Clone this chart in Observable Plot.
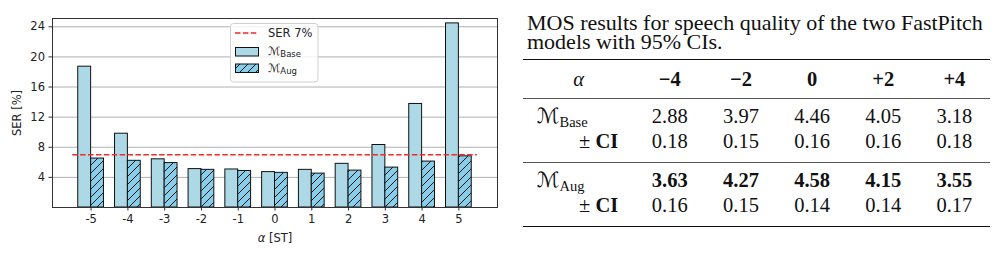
<!DOCTYPE html>
<html>
<head>
<meta charset="utf-8">
<script src="https://cdn.jsdelivr.net/npm/d3@7"></script>
<script src="https://cdn.jsdelivr.net/npm/@observablehq/plot@0.6"></script>
<style>
  html, body { margin: 0; padding: 0; background: #fff; }
  #wrap { position: relative; width: 1008px; height: 259px; overflow: hidden; }
  #chart { position: absolute; left: 0; top: 0; }
  #panel { position: absolute; left: 523px; top: 0; width: 467px;
           font-family: "Liberation Serif", "DejaVu Serif", serif; color: #111; }
  #caption { position: absolute; left: 4px; top: 13px; width: 480px; white-space: nowrap;
             font-family: "Liberation Serif", serif; font-size: 22px; line-height: 19px; }
  #caption span { display: inline-block; }
  #mos { position: absolute; left: 0; top: 59px; width: 467px; border-collapse: collapse;
         font-size: 20.5px; table-layout: fixed; font-family: "Liberation Serif", "DejaVu Serif", serif; }
  #mos td { padding: 0; text-align: center; height: 25px; line-height: 25px; white-space: nowrap;
            font-family: "Liberation Serif", "DejaVu Serif", serif; }
  #mos tr.head td { height: 38px; line-height: 38px; }
  #mos tr.first td { height: 30px; line-height: 25px; padding-top: 5px; box-sizing: border-box; vertical-align: bottom; }
  #mos tr.last td { height: 33px; line-height: 25px; padding-bottom: 8px; box-sizing: border-box; vertical-align: top; }
  #mos td.name { text-align: left; padding-left: 14px; }
  #mos td.ci { text-align: right; padding-right: 16px; }
  #mos .cal { font-family: "DejaVu Sans", sans-serif; font-size: 21px; }
  #mos sub { font-size: 14.5px; vertical-align: -4px; line-height: 0; }
  .b { font-weight: bold; }
</style>
</head>
<body>
<div id="wrap">
  <div id="chart"></div>
  <div id="panel">
    <div id="caption"><span id="cap1">MOS results for speech quality of the two FastPitch</span><br><span>models with 95% CIs.</span></div>
    <table id="mos"></table>
  </div>
</div>
<script>
// Pitch shift α in semitones and the speech error rate (SER, %) of each model
const alphas = [-5, -4, -3, -2, -1, 0, 1, 2, 3, 4, 5];
const serBase = [18.7, 9.8, 6.4, 5.1, 5.05, 4.7, 5.0, 5.8, 8.3, 13.75, 24.45];
const serAug = [6.5, 6.2, 5.9, 5.0, 4.85, 4.6, 4.5, 4.9, 5.3, 6.1, 6.8];
const serThreshold = 7;
const yTicks = [4, 8, 12, 16, 20, 24];

// MOS table: pitch shifts, means and 95% confidence half-widths
const mosShifts = ["−4", "−2", "0", "+2", "+4"];
const mosBase = [2.88, 3.97, 4.46, 4.05, 3.18];
const ciBase = [0.18, 0.15, 0.16, 0.16, 0.18];
const mosAug = [3.63, 4.27, 4.58, 4.15, 3.55];
const ciAug = [0.16, 0.15, 0.14, 0.14, 0.17];

const barW = 0.35;
const rows = alphas.map((a, i) => ({alpha: a, base: serBase[i], aug: serAug[i]}));
const baseFill = "#add8e6";
const augFill = "#87ceeb";
const ink = "#222";

const plot = Plot.plot({
  width: 510,
  height: 250,
  marginLeft: 52,
  marginRight: 13,
  marginTop: 18,
  marginBottom: 43,
  style: {fontFamily: "DejaVu Sans, sans-serif", fontSize: "11.5px", color: ink, background: "transparent"},
  x: {domain: [-6.05, 6.05]},
  y: {domain: [0, 25.1]},
  marks: [
    Plot.gridY(yTicks, {stroke: "#b0b0b0", strokeOpacity: 1, strokeWidth: 1}),
    Plot.rectY(rows, {x1: d => d.alpha - barW, x2: d => d.alpha, y: "base",
      fill: baseFill, stroke: "#111", strokeWidth: 1}),
    Plot.rectY(rows, {x1: d => d.alpha, x2: d => d.alpha + barW, y: "aug",
      fill: "url(#hatch)", stroke: "#111", strokeWidth: 1}),
    Plot.ruleY([serThreshold], {x1: alphas[0] - 0.5, x2: alphas[alphas.length - 1] + 0.5,
      stroke: "#ee2a2a", strokeWidth: 1.5, strokeDasharray: "5.5,2.4"}),
    Plot.frame({stroke: "#333", strokeWidth: 1}),
    Plot.axisX(alphas, {tickFormat: d => String(d), tickSize: 3.5, tickPadding: 4,
      label: "α [ST]", labelArrow: "none", labelAnchor: "center", labelOffset: 34, stroke: "#333"}),
    Plot.axisY(yTicks, {tickFormat: d => String(d), tickSize: 3.5, tickPadding: 4,
      label: "SER [%]", labelArrow: "none", labelAnchor: "center", labelOffset: 40, stroke: "#333"})
  ]
});
document.getElementById("chart").append(plot);

const svg = d3.select(plot);
// hatch pattern for the augmented model's bars
const defs = svg.insert("defs", ":first-child");
const pat = defs.append("pattern").attr("id", "hatch").attr("patternUnits", "userSpaceOnUse")
  .attr("width", 8).attr("height", 8);
pat.append("rect").attr("width", 8).attr("height", 8).attr("fill", augFill);
pat.append("path").attr("d", "M-2,2 L2,-2 M0,8 L8,0 M6,10 L10,6")
  .attr("stroke", "#111").attr("stroke-width", 1);

// italic α in the x-axis label
svg.selectAll("text").filter(function() { return this.textContent.trim() === "α [ST]"; })
  .each(function() {
    const t = d3.select(this);
    t.text(null);
    t.append("tspan").attr("font-style", "italic").text("α");
    t.append("tspan").text(" [ST]");
  });

// legend
const lg = svg.append("g").attr("font-family", "DejaVu Sans, sans-serif").attr("font-size", 11.5)
  .attr("fill", ink).attr("text-anchor", "start");
lg.append("rect").attr("x", 230.5).attr("y", 23.5).attr("width", 87.5).attr("height", 58.5).attr("rx", 3)
  .attr("fill", "#fff").attr("fill-opacity", 0.8).attr("stroke", "#d0d0d0");
lg.append("line").attr("x1", 235).attr("x2", 258).attr("y1", 33).attr("y2", 33)
  .attr("stroke", "#ee2a2a").attr("stroke-width", 1.5).attr("stroke-dasharray", "5.5,2.4");
lg.append("text").attr("x", 268).attr("y", 33).attr("dy", "0.35em").text("SER 7%");
lg.append("rect").attr("x", 235.5).attr("y", 47.5).attr("width", 23).attr("height", 8.5)
  .attr("fill", baseFill).attr("stroke", "#111");
lg.append("rect").attr("x", 235.5).attr("y", 64).attr("width", 23).attr("height", 8.5)
  .attr("fill", "url(#hatch)").attr("stroke", "#111");
function modelLabel(y, sub) {
  const t = lg.append("text").attr("x", 268).attr("y", y).attr("dy", "0.35em");
  t.append("tspan").text("ℳ");
  t.append("tspan").attr("font-size", 8.5).attr("dy", 2).text(sub);
}
modelLabel(51, "Base");
modelLabel(68, "Aug");

// caption: size the first line to span the table width
const cap = document.getElementById("caption");
const cap1 = document.getElementById("cap1");
const w1 = cap1.getBoundingClientRect().width;
if (w1 > 0) cap.style.fontSize = (22 * 456 / w1).toFixed(2) + "px";

// MOS table
const fmt = v => v.toFixed(2);
const table = d3.select("#mos");
const cg = table.append("colgroup");
cg.append("col").style("width", "111px");
mosShifts.forEach(() => cg.append("col").style("width", "71px"));

const head = table.append("tr").attr("class", "head")
  .style("border-top", "1.6px solid #111").style("border-bottom", "1px solid #555");
head.append("td").append("i").text("α");
mosShifts.forEach(s => head.append("td").attr("class", "b").text(s));

function group(name, means, cis, bold, last) {
  const r1 = table.append("tr").attr("class", "first");
  const n = r1.append("td").attr("class", "name");
  n.append("span").attr("class", "cal").text("ℳ");
  n.append("sub").text(name);
  means.forEach(v => r1.append("td").classed("b", bold).text(fmt(v)));
  const r2 = table.append("tr").attr("class", "last")
    .style("border-bottom", last ? "1.6px solid #111" : "1px solid #555");
  const c = r2.append("td").attr("class", "ci");
  c.append("span").text("± ");
  c.append("span").attr("class", "b").text("CI");
  cis.forEach(v => r2.append("td").text(fmt(v)));
}
group("Base", mosBase, ciBase, false, false);
group("Aug", mosAug, ciAug, true, true);
</script>
</body>
</html>
